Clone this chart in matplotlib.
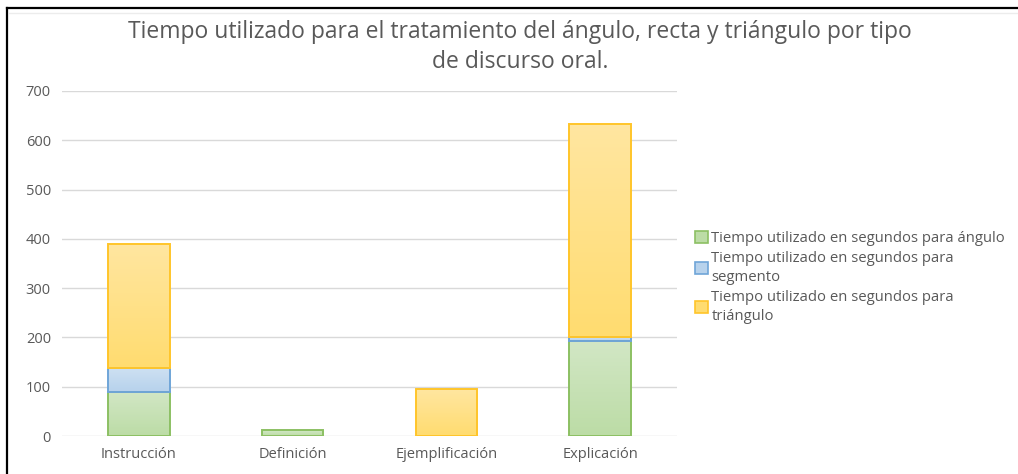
import numpy as np
import matplotlib
matplotlib.use("Agg")
import matplotlib.pyplot as plt
from matplotlib.lines import Line2D
from matplotlib.patches import Patch
from matplotlib.colors import LinearSegmentedColormap

# Data (seconds)
categories = ["Instrucción", "Definición", "Ejemplificación", "Explicación"]
angulo = [90, 12, 0, 193]
segmento = [48, 0, 0, 8]
triangulo = [252, 0, 95, 432]
series_labels = [
    "Tiempo utilizado en segundos para ángulo",
    "Tiempo utilizado en segundos para\nsegmento",
    "Tiempo utilizado en segundos para\ntriángulo",
]
title = ("Tiempo utilizado para el tratamiento del ángulo, recta y triángulo por tipo\n"
         "de discurso oral.")

plt.rcParams["font.family"] = ["Open Sans", "DejaVu Sans"]

text_color = "#595959"
grid_color = "#d9d9d9"

# (top colour, bottom colour, edge colour)
styles = [
    ("#d2e7c5", "#bcdca6", "#8cc063"),
    ("#cde0f2", "#b7d2ec", "#6fa5d8"),
    ("#ffe6a0", "#ffdc70", "#ffc52a"),
]

fig = plt.figure(figsize=(10.18, 4.74), dpi=100)
ax = fig.add_axes([62 / 1018, 1 - 436 / 474, (677 - 62) / 1018, (436 - 91) / 474])

x = np.arange(len(categories))
width = 0.40
bottom = np.zeros(len(categories))
for vals, (top_c, bot_c, edge_c) in zip([angulo, segmento, triangulo], styles):
    vals = np.array(vals, dtype=float)
    lw = [1.4 if v > 0 else 0 for v in vals]
    bars = ax.bar(x, vals, width, bottom=bottom, facecolor="none",
                  edgecolor=edge_c, linewidth=lw, zorder=4)
    cmap = LinearSegmentedColormap.from_list("g", [bot_c, top_c])
    grad = np.linspace(0, 1, 64).reshape(-1, 1)
    for b, v in zip(bars, vals):
        if v <= 0:
            continue
        x0, y0 = b.get_x(), b.get_y()
        im = ax.imshow(grad, cmap=cmap, origin="lower", aspect="auto",
                       extent=[x0, x0 + b.get_width(), y0, y0 + b.get_height()],
                       zorder=3, interpolation="bilinear")
        im.set_clip_path(b)
    bottom += vals

ax.set_xlim(-0.5, len(categories) - 0.5)
ax.set_ylim(0, 700)
ax.set_yticks(np.arange(0, 701, 100))
ax.set_xticks(x)
ax.set_xticklabels(categories)
ax.yaxis.grid(True, color=grid_color, linewidth=1.0, zorder=0)
ax.set_axisbelow(True)
for s in ax.spines.values():
    s.set_visible(False)
ax.tick_params(axis="both", length=0, colors=text_color, labelsize=10.5)
ax.tick_params(axis="y", pad=8)
ax.tick_params(axis="x", pad=8)

fig.text(520 / 1018, 1 - 47 / 474, title, ha="center", va="center",
         fontsize=16.5, color=text_color, linespacing=1.3)

handles = [Patch(facecolor=s[1], edgecolor=s[2], linewidth=1.2) for s in styles]
leg = fig.legend(handles, series_labels, loc="upper left",
                 bbox_to_anchor=(695 / 1018, 1 - 231 / 474), frameon=False,
                 fontsize=10.7, handlelength=0.85, handleheight=0.85,
                 handletextpad=0.25, borderpad=0, borderaxespad=0,
                 labelspacing=0.3)
for t in leg.get_texts():
    t.set_color(text_color)
    t.set_linespacing(1.42)

# frame lines along the top and left edges
fig.add_artist(Line2D([7 / 1018, 1], [1 - 7.5 / 474] * 2, color="black", linewidth=1.6))
fig.add_artist(Line2D([7 / 1018] * 2, [0, 1 - 7.5 / 474], color="black", linewidth=1.6))
fig.add_artist(Line2D([9 / 1018, 1], [1 - 13 / 474] * 2, color="#ececec", linewidth=1.0))

fig.savefig("out.png", dpi=100, facecolor="white")
